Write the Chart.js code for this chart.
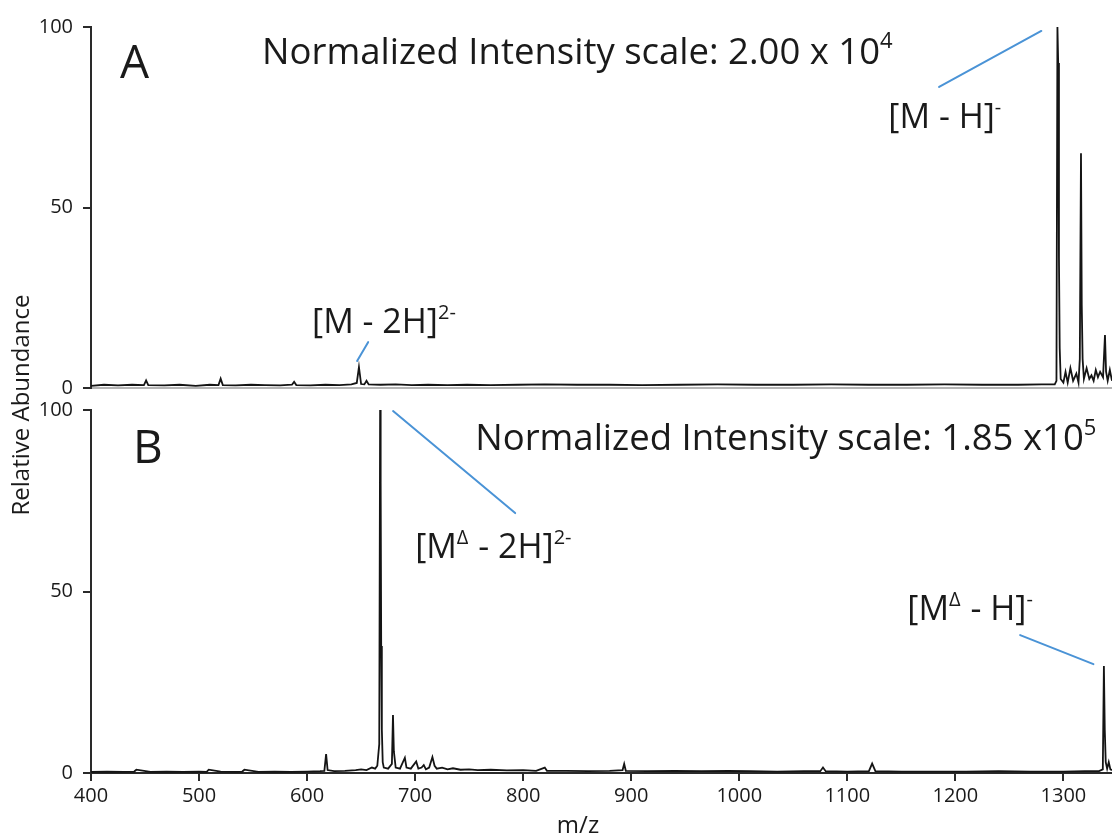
<!DOCTYPE html>
<html><head><meta charset="utf-8">
<script src="https://cdn.jsdelivr.net/npm/chart.js@4.4.1/dist/chart.umd.min.js"></script>
<style>
html,body{margin:0;padding:0;background:#fff;}
#wrap{position:relative;width:1112px;height:839px;overflow:hidden;background:#fff;}
#wrap canvas{position:absolute;left:0;top:0;}
</style></head><body>
<div id="wrap"><canvas id="cA" width="1112" height="839"></canvas><canvas id="cB" width="1112" height="839"></canvas></div>
<script>
// ---------- data ----------
const xTicks = [400, 500, 600, 700, 800, 900, 1000, 1100, 1200, 1300];
const yTicks = [0, 50, 100];

// Panel A spectrum (m/z, relative abundance)
const mzA = [
  400, 412, 425, 438, 449, 451, 453, 468, 482, 497,
  510, 518, 520, 522, 534, 548, 561, 575, 586, 588,
  590, 603, 617, 630, 641, 646, 648, 650, 653, 655,
  657, 668, 682, 697, 712, 730, 748, 770, 795, 820,
  850, 880, 910, 945, 980, 1015, 1050, 1085, 1120, 1155,
  1190, 1225, 1258, 1280, 1292, 1293.6, 1294.5, 1295.2, 1295.9, 1296.6,
  1297.5, 1300, 1302, 1304, 1306.5, 1309, 1312, 1314, 1315.2, 1316.3,
  1317, 1317.8, 1319, 1321.5, 1324, 1326, 1328, 1330, 1332, 1334,
  1336.7, 1338.5, 1339.5, 1341, 1343, 1345
];
const intA = [
  0.6, 0.9, 0.7, 0.9, 0.8, 2.1, 0.8, 0.7, 0.9, 0.6,
  0.9, 0.8, 2.6, 0.8, 0.7, 0.9, 0.8, 0.7, 0.9, 1.7,
  0.8, 0.7, 0.9, 0.8, 1.0, 1.4, 5.8, 1.1, 1.0, 2.0,
  1.0, 0.9, 1.0, 0.8, 0.9, 0.8, 0.9, 0.8, 0.9, 1.0,
  0.9, 0.9, 0.8, 0.9, 1.0, 0.9, 0.9, 1.0, 0.9, 0.9,
  1.0, 0.9, 0.9, 1.0, 1.0, 2.0, 100, 90, 36, 11,
  2.5, 1.5, 4.5, 1.5, 5.5, 2.0, 4.0, 1.5, 8, 65,
  23, 8, 2.5, 5.5, 2.5, 3.5, 2.0, 5.0, 3.0, 4.5,
  3.0, 14.7, 4.5, 2.0, 5.0, 2.0
];

// Panel B spectrum (m/z, relative abundance)
const mzB = [
  400, 415, 430, 440, 442, 455, 470, 485, 500, 507,
  509, 520, 535, 540, 542, 555, 570, 585, 600, 612,
  616, 617.6, 619, 625, 635, 645, 650, 655, 660, 663,
  665, 666.8, 667.6, 668.1, 668.6, 669.2, 670, 671, 675, 678.5,
  679.5, 680.3, 682, 686, 690.5, 692, 696, 701, 703, 706,
  708, 710, 713, 716, 718, 720, 725, 730, 735, 742,
  750, 758, 770, 785, 800, 812, 820, 822, 840, 860,
  880, 892, 893.5, 895, 915, 940, 965, 990, 1010, 1035,
  1060, 1075, 1077.5, 1080, 1100, 1120, 1123, 1126, 1150, 1180,
  1210, 1240, 1270, 1300, 1320, 1333, 1336.5, 1337.5, 1338.3, 1339.2,
  1340.5, 1342, 1343.5, 1345
];
const intB = [
  0.3, 0.4, 0.3, 0.4, 0.9, 0.3, 0.4, 0.3, 0.4, 0.3,
  0.9, 0.4, 0.3, 0.4, 0.9, 0.3, 0.4, 0.3, 0.4, 0.5,
  0.6, 5.2, 0.8, 0.5, 0.6, 0.8, 1.0, 0.8, 1.5, 1.2,
  2.0, 8, 100, 80, 35, 12, 3, 1.5, 1.2, 2.5,
  16, 6, 1.5, 1.2, 4.2, 1.5, 1.2, 3.2, 1.2, 1.5,
  2.2, 1.0, 1.5, 4.4, 2.0, 1.2, 1.5, 1.0, 1.3, 0.9,
  1.0, 0.8, 0.9, 0.7, 0.8, 0.6, 1.5, 0.6, 0.6, 0.5,
  0.6, 0.8, 2.5, 0.6, 0.5, 0.6, 0.5, 0.6, 0.5, 0.4,
  0.5, 0.5, 1.5, 0.5, 0.4, 0.5, 2.6, 0.5, 0.4, 0.4,
  0.4, 0.5, 0.4, 0.4, 0.5, 0.5, 1.0, 29.5, 12, 3.0,
  1.2, 3.0, 1.0, 0.8
];

// ---------- labels / annotations (anchored in data coordinates) ----------
const FONT = "'Open Sans', 'Noto Sans', 'DejaVu Sans', sans-serif";
const TEXT = '#1a1a1a';
const LEAD = '#4a93d6';

const annA = {
  texts: [
    {x: 426.9, y: 85.9, size: 46, segs: [['A']]},
    {x: 558.3, y: 89.8, size: 36.5, segs: [['Normalized Intensity scale: 2.00 x 10'], ['4', true]]},
    {x: 1138, y: 72, size: 34, segs: [['[M - H]'], ['-', true]]},
    {x: 604.6, y: 15.2, size: 34, segs: [['[M - 2H]'], ['2-', true]]}
  ],
  lines: [
    [1185, 83.4, 1279.6, 98.9],
    [646.3, 7.5, 656.5, 12.7]
  ]
};
const annB = {
  texts: [
    {x: 438.9, y: 85.4, size: 46, segs: [['B']]},
    {x: 755.6, y: 89, size: 36.5, segs: [['Normalized Intensity scale: 1.85 x10'], ['5', true]]},
    {x: 700, y: 59.2, size: 34, segs: [['[M'], ['Δ', true], [' - 2H]'], ['2-', true]]},
    {x: 1155.6, y: 42.1, size: 34, segs: [['[M'], ['Δ', true], [' - H]'], ['-', true]]}
  ],
  lines: [
    [679.6, 99.7, 792.6, 71.6],
    [1260, 38, 1327.8, 30]
  ]
};

function drawRich(ctx, x, y, segs, size) {
  let cx = x;
  for (const [t, sup] of segs) {
    const fs = sup ? Math.round(size * 0.6) : size;
    ctx.font = fs + 'px ' + FONT;
    ctx.fillText(t, cx, sup ? y - size * 0.42 : y);
    cx += ctx.measureText(t).width + (sup ? 1 : 0);
  }
}

function annotPlugin(ann, extra) {
  return {
    id: 'annot',
    afterDraw(chart) {
      const {ctx, scales: {x, y}} = chart;
      ctx.save();
      ctx.strokeStyle = LEAD;
      ctx.lineWidth = 2;
      ctx.lineCap = 'round';
      for (const [x1, y1, x2, y2] of ann.lines) {
        ctx.beginPath();
        ctx.moveTo(x.getPixelForValue(x1), y.getPixelForValue(y1));
        ctx.lineTo(x.getPixelForValue(x2), y.getPixelForValue(y2));
        ctx.stroke();
      }
      ctx.fillStyle = TEXT;
      ctx.textAlign = 'left';
      ctx.textBaseline = 'alphabetic';
      for (const t of ann.texts) {
        drawRich(ctx, x.getPixelForValue(t.x), y.getPixelForValue(t.y), t.segs, t.size);
      }
      if (extra) extra(ctx, chart);
      ctx.restore();
    }
  };
}

function toPoints(mz, inten) { return mz.map((m, i) => ({x: m, y: inten[i]})); }

function makeChart(id, mz, inten, ann, isBottom, extra) {
  return new Chart(document.getElementById(id), {
    type: 'line',
    data: {datasets: [{
      data: toPoints(mz, inten),
      borderColor: '#141414', borderWidth: 1.8,
      pointRadius: 0, tension: 0, fill: false
    }]},
    options: {
      responsive: false, animation: false, events: [],
      layout: {padding: {top: isBottom ? 410 : 27, left: 0, right: 0, bottom: 0}},
      plugins: {legend: {display: false}, tooltip: {enabled: false}},
      scales: {
        x: {
          type: 'linear', min: 400, max: 1345,
          afterBuildTicks(s) { s.ticks = xTicks.map(v => ({value: v})); },
          ticks: {display: isBottom, color: TEXT, font: {family: FONT, size: 20}, padding: 3, includeBounds: false,
                  callback: v => String(v)},
          grid: {display: isBottom, drawOnChartArea: false, drawTicks: isBottom, tickLength: 8, color: '#2a2a2a', lineWidth: 2},
          border: {display: true, color: isBottom ? '#2a2a2a' : '#b4b4b4', width: 2},
          afterFit(s) { s.height = isBottom ? 66 : 451; }
        },
        y: {
          min: 0, max: 100,
          afterBuildTicks(s) { s.ticks = yTicks.map(v => ({value: v})); },
          ticks: {color: TEXT, font: {family: FONT, size: 20}, padding: 10, callback: v => String(v)},
          grid: {drawOnChartArea: false, drawTicks: true, tickLength: 8, color: '#2a2a2a', lineWidth: 2},
          border: {display: true, color: '#2a2a2a', width: 2},
          afterFit(s) { s.width = 91; }
        }
      }
    },
    plugins: [annotPlugin(ann, extra)]
  });
}

makeChart('cA', mzA, intA, annA, false);
makeChart('cB', mzB, intB, annB, true, (ctx) => {
  ctx.fillStyle = TEXT;
  ctx.font = '24px ' + FONT;
  ctx.textAlign = 'center';
  ctx.textBaseline = 'middle';
  ctx.fillText('m/z', 578, 826);
  ctx.save();
  ctx.translate(22, 405);
  ctx.rotate(-Math.PI / 2);
  ctx.font = '24px ' + FONT;
  ctx.fillText('Relative Abundance', 0, 0);
  ctx.restore();
});
</script>
</body></html>
